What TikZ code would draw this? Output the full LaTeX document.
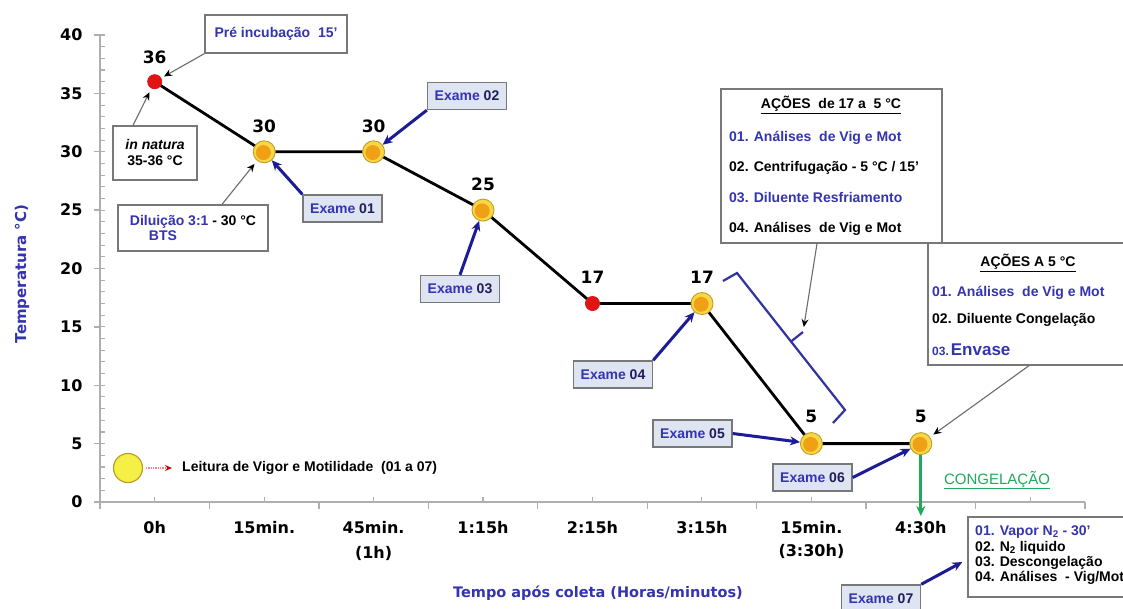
\documentclass[tikz,border=0pt]{standalone}
\usepackage{fontspec}
\setmainfont{Liberation Sans}
\newfontfamily\dv{DejaVu Sans}
\usetikzlibrary{arrows.meta}
\definecolor{tblue}{RGB}{52,52,176}
\definecolor{ablue}{RGB}{28,28,150}
\definecolor{navy}{RGB}{30,30,90}
\definecolor{axgray}{RGB}{175,175,175}
\definecolor{bxgray}{RGB}{120,120,120}
\definecolor{exfill}{RGB}{222,228,242}
\definecolor{myel}{RGB}{248,214,70}
\definecolor{myelb}{RGB}{185,160,40}
\definecolor{morange}{RGB}{240,160,20}
\definecolor{mred}{RGB}{225,20,20}
\definecolor{cgreen}{RGB}{30,170,90}
\definecolor{lyel}{RGB}{245,240,70}
\definecolor{bracecol}{RGB}{50,50,160}
\newcommand{\myfs}[1]{\fontsize{#1}{#1}\selectfont}
\tikzset{
  axisline/.style={draw=axgray, line width=1.4pt},
  exbox/.style={draw=bxgray, fill=exfill, line width=1.4pt, minimum width=79pt, minimum height=27pt, inner sep=0pt, font=\bfseries\myfs{14}},
  wbox/.style={draw=bxgray, fill=white, line width=1.3pt, inner sep=0pt},
  exarrow/.style={draw=ablue, line width=3pt, -{Stealth[length=10pt,width=9pt]}},
  thinarrow/.style={draw=gray!85!black, line width=1.1pt, -{Stealth[length=8pt,width=7pt,black]}},
  mk/.style={circle, fill=myel, draw=myelb, line width=0.9pt, minimum size=22pt, inner sep=0pt,
    path picture={\fill[morange] ([shift={(-0.8pt,-0.8pt)}]path picture bounding box.center) circle[radius=7.5pt];}},
  rdot/.style={circle, fill=mred, minimum size=15pt, inner sep=0pt},
  dlabel/.style={font=\dv\bfseries\myfs{17}},
  ticklab/.style={font=\dv\bfseries\myfs{16}, anchor=east},
  catlab/.style={font=\dv\bfseries\myfs{16}, align=center, anchor=north},
  btxt/.style={font=\bfseries\myfs{14}, anchor=west, inner sep=0pt},
  bracepath/.style={draw=bracecol, line width=2.2pt, line join=miter},
  dataline/.style={draw=black, line width=2.8pt},
}
\begin{document}
\begin{tikzpicture}[x=1pt,y=-1pt]
\useasboundingbox (0,0) rectangle (1123,608);
\clip (0,0) rectangle (1123,608);
\fill[white] (0,0) rectangle (1123,608);

% axes
\draw[axisline] (100,35) -- (100,502) -- (1085,502);
\foreach \t in {0,...,40} { \draw[axisline, line width=1.1pt] (100,{502-\t*11.675}) -- (105,{502-\t*11.675}); }
\foreach \t in {0,5,...,40} {
  \draw[axisline] (94,{502-\t*11.675}) -- (100,{502-\t*11.675});
  \node[ticklab] at (86,{502-\t*11.675}) {\t};
}
\foreach \k in {0,...,9} { \draw[axisline] ({100+\k*109.44},502) -- ({100+\k*109.44},509); }
\foreach \k in {0,...,8} { \draw[axisline, line width=1.1pt] ({154.72+\k*109.44},497) -- ({154.72+\k*109.44},502); }

% category labels
\node[catlab] (x0) at (154.7,518) {0h};
\node[catlab] (x1) at (264.2,518) {15min.};
\node[catlab] (x2) at (373.6,518) {45min.\\[9pt](1h)};
\node[catlab] (x3) at (483.0,518) {1:15h};
\node[catlab] (x4) at (592.5,518) {2:15h};
\node[catlab] (x5) at (702.0,518) {3:15h};
\node[catlab] (x6) at (811.4,518) {15min.\\[7pt](3:30h)};
\node[catlab] (x7) at (920.8,518) {4:30h};

% axis titles
\node[rotate=90, font=\dv\bfseries\myfs{15}, text=tblue] (ytit) at (22,274) {Temperatura °C)};
\node[font=\dv\bfseries\myfs{14.5}, text=tblue] (xtit) at (598,593) {Tempo após coleta (Horas/minutos)};

% data coordinates
\coordinate (c0) at (154.7,81.7);
\coordinate (c1) at (264.2,151.8);
\coordinate (c2) at (373.6,151.8);
\coordinate (c3) at (483.0,210.1);
\coordinate (c4) at (592.5,303.5);
\coordinate (c5) at (702.0,303.5);
\coordinate (c6) at (811.4,443.6);
\coordinate (c7) at (920.8,443.6);
\draw[dataline] (c0) -- (c1) -- (c2) -- (c3) -- (c4) -- (c5) -- (c6) -- (c7);

% green arrow
\coordinate (gend) at (920.8,516);
\draw[draw=cgreen, line width=3pt, -{Stealth[length=10pt,width=9pt]}] (c7) -- (gend);

\node[rdot] (p0) at (c0) {};
\node[mk] (p1) at (c1) {};
\node[mk] (p2) at (c2) {};
\node[mk] (p3) at (c3) {};
\node[rdot] (p4) at (c4) {};
\node[mk] (p5) at (c5) {};
\node[mk] (p6) at (c6) {};
\node[mk] (p7) at (c7) {};

% data labels
\node[dlabel] (l0) at (154.7,57) {36};
\node[dlabel] (l1) at (264.2,126) {30};
\node[dlabel] (l2) at (373.6,126) {30};
\node[dlabel] (l3) at (483.0,184) {25};
\node[dlabel] (l4) at (592.5,277) {17};
\node[dlabel] (l5) at (702.0,277) {17};
\node[dlabel] (l6) at (811.4,416) {5};
\node[dlabel] (l7) at (920.8,416) {5};

% top-left annotation boxes
\node[wbox, minimum width=142pt, minimum height=38pt, font=\bfseries\myfs{14}, text=tblue] (pre) at (276,34) {Pré incubação\ \ 15'};
\draw[thinarrow, shorten >=3pt] (pre.south west) -- (p0);
\node[wbox, minimum width=84pt, minimum height=54pt, font=\bfseries\myfs{14}, align=center] (nat) at (155,153) {\textit{in natura}\\[2pt]35-36 °C};
\draw[thinarrow, shorten >=4pt] ([xshift=-22pt]nat.north) -- (p0);
\node[wbox, minimum width=150pt, minimum height=46pt, font=\bfseries\myfs{14}, align=left] (dil) at (193,228) {{\color{tblue}Diluição 3:1} - 30 °C\\[1pt]\hspace*{19pt}{\color{tblue}BTS}};
\draw[thinarrow, shorten >=4pt] ([xshift=29pt]dil.north) -- (p1);

% exame boxes
\node[exbox] (e1) at (342.5,208.5) {{\color{tblue}Exame}\ {\color{navy}01}};
\draw[exarrow] (e1.north west) -- (p1);
\node[exbox] (e2) at (467,96) {{\color{tblue}Exame}\ {\color{navy}02}};
\draw[exarrow] (e2.south west) -- (p2);
\node[exbox] (e3) at (460,289) {{\color{tblue}Exame}\ {\color{navy}03}};
\draw[exarrow] (e3.north) -- (p3);
\node[exbox] (e4) at (613,374.5) {{\color{tblue}Exame}\ {\color{navy}04}};
\draw[exarrow] (e4.north east) -- (p5);
\node[exbox] (e5) at (692.5,433.5) {{\color{tblue}Exame}\ {\color{navy}05}};
\draw[exarrow] (e5.east) -- (p6);
\node[exbox] (e6) at (812.5,477.5) {{\color{tblue}Exame}\ {\color{navy}06}};
\draw[exarrow] (e6.east) -- (p7);
\node[exbox] (e7) at (881,598.5) {{\color{tblue}Exame}\ {\color{navy}07}};

% actions box 17 to 5
\node[wbox, minimum width=221pt, minimum height=154pt] (a1) at (831.5,166) {};
\node[font=\bfseries\myfs{14}, inner sep=0pt] (a1t) at (831,105) {\underline{AÇÕES\ \ de 17 a\ \ 5 °C}};
\node[btxt, text=tblue] (a1i1) at (729,138) {01. Análises\ \ de Vig e Mot};
\node[btxt] (a1i2) at (729,168) {02. Centrifugação - 5 °C / 15'};
\node[btxt, text=tblue] (a1i3) at (729,198) {03. Diluente Resfriamento};
\node[btxt] (a1i4) at (729,229) {04. Análises\ \ de Vig e Mot};

% brace
\coordinate (b1) at (723,281);
\coordinate (b2) at (737,273);
\coordinate (b3) at (845,410);
\coordinate (b4) at (833,423);
\coordinate (bm) at (791,341.5);
\coordinate (bt) at (803,332);
\draw[bracepath] (b1) -- (b2) -- (b3) -- (b4);
\draw[bracepath] (bm) -- (bt);
\draw[thinarrow, shorten >=5pt] ([xshift=-14.5pt]a1.south) -- (bt);

% actions box at 5
\node[wbox, minimum width=202pt, minimum height=122pt] (a2) at (1029,304) {};
\node[font=\bfseries\myfs{14}, inner sep=0pt] (a2t) at (1028,263) {\underline{AÇÕES A 5 °C}};
\node[btxt, text=tblue] (a2i1) at (932,293) {01. Análises\ \ de Vig e Mot};
\node[btxt] (a2i2) at (932,320) {02. Diluente Congelação};
\node[btxt, text=tblue] (a2i3) at (932,350) {\myfs{12}03.\,{\myfs{17}Envase}};
\draw[thinarrow, shorten >=4pt] (a2.south) -- (p7);

% congelacao
\node[font=\myfs{15}, text=cgreen] (cong) at (997,480) {\underline{CONGELAÇÃO}};

% nitrogen box
\node[wbox, minimum width=162pt, minimum height=80pt] (nb) at (1049,557) {};
\node[btxt, font=\bfseries\myfs{14}, text=tblue] (nb1) at (975,532) {01. Vapor N\textsubscript{2} - 30'};
\node[btxt, font=\bfseries\myfs{14}] (nb2) at (975,548) {02. N\textsubscript{2} liquido};
\node[btxt, font=\bfseries\myfs{14}] (nb3) at (975,563) {03. Descongelação};
\node[btxt, font=\bfseries\myfs{14}] (nb4) at (975,578) {04. Análises\ \ - Vig/Mot};
\draw[exarrow] (e7.north east) -- ([xshift=-5pt,yshift=-5pt]nb.west);

% legend
\node[circle, fill=lyel, draw=myelb, line width=1.2pt, minimum size=29pt, inner sep=0pt] (leg) at (128,468) {};
\node[btxt] (legt) at (182,468) {Leitura de Vigor e Motilidade\ \ (01 a 07)};
\draw[draw=red!50, line width=1.3pt, densely dotted, -{Stealth[length=7pt,width=6pt,red!80!black]}, shorten <=3pt, shorten >=10pt] (leg.east) -- (legt.west);
\end{tikzpicture}
\end{document}
